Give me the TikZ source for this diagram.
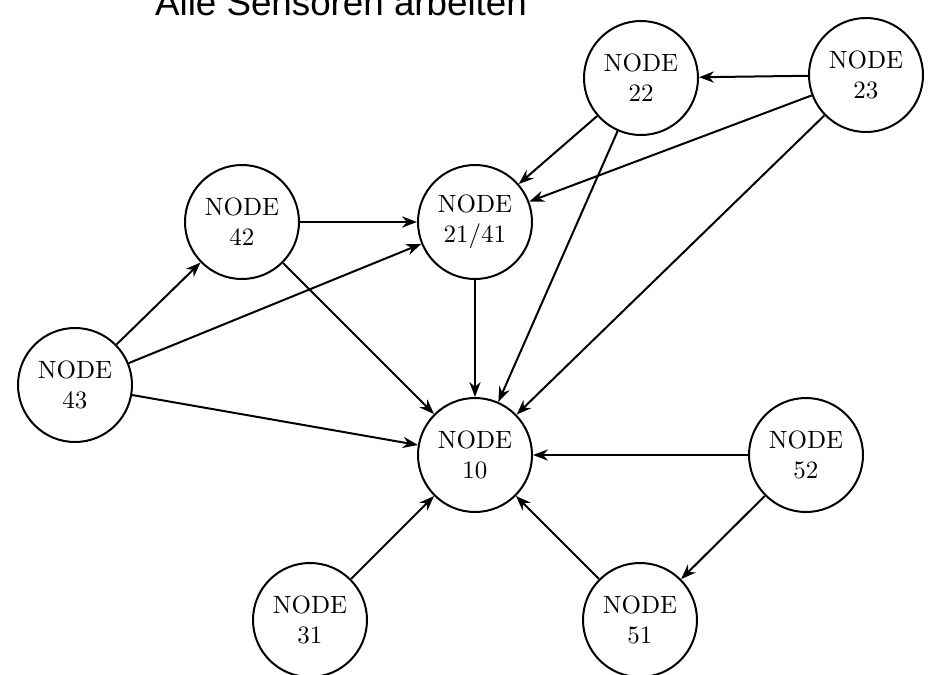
\documentclass[tikz,border=0pt]{standalone}
\usepackage{fontspec}
\newfontfamily\titelfont{Liberation Sans}
\usetikzlibrary{arrows.meta}

\begin{document}
\begin{tikzpicture}[x=0.4pt,y=-0.4pt,
        sensor/.style={draw,circle,thick,minimum size=45.6pt,inner sep=0pt,align=center},
        pfeil/.style={thick,-{Stealth[length=6pt,width=4.5pt]}}]
        \useasboundingbox (0,0) rectangle (936,675);
        \node[anchor=base,font=\titelfont\fontsize{14.7}{17}\selectfont] (titel) at (341,15) {Alle Sensoren arbeiten};
        % Knoten
        \node[sensor] (n22) at (641,78) {NODE\\22};
        \node[sensor] (n23) at (866,75) {NODE\\23};
        \node[sensor] (n42) at (242,222) {NODE\\42};
        \node[sensor] (n41) at (475,222) {NODE\\21/41};
        \node[sensor] (n43) at (75,385) {NODE\\43};
        \node[sensor] (n10) at (475,455) {NODE\\10};
        \node[sensor] (n52) at (806,455) {NODE\\52};
        \node[sensor] (n31) at (310,620) {NODE\\31};
        \node[sensor] (n51) at (640,620) {NODE\\51};
        % Verbindungen
        \draw[pfeil] (n23) -- (n22);
        \draw[pfeil] (n22) -- (n41);
        \draw[pfeil] (n22) -- (n10);
        \draw[pfeil] (n23) -- (n41);
        \draw[pfeil] (n23) -- (n10);
        \draw[pfeil] (n42) -- (n41);
        \draw[pfeil] (n42) -- (n10);
        \draw[pfeil] (n43) -- (n42);
        \draw[pfeil] (n43) -- (n41);
        \draw[pfeil] (n43) -- (n10);
        \draw[pfeil] (n41) -- (n10);
        \draw[pfeil] (n52) -- (n10);
        \draw[pfeil] (n52) -- (n51);
        \draw[pfeil] (n31) -- (n10);
        \draw[pfeil] (n51) -- (n10);
\end{tikzpicture}
\end{document}
